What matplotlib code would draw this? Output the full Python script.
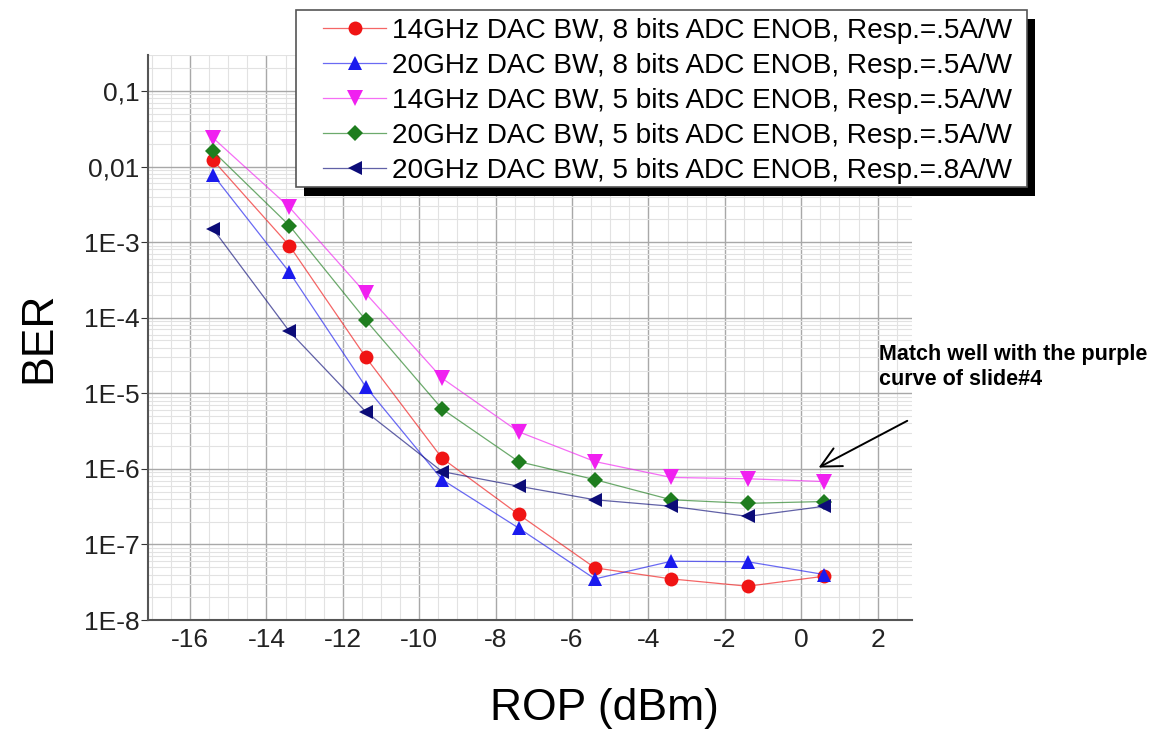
import matplotlib
matplotlib.use("Agg")
import matplotlib.pyplot as plt
from matplotlib.colors import to_rgba
from matplotlib.ticker import FixedLocator, FixedFormatter, LogLocator, MultipleLocator, NullFormatter
from matplotlib.patches import Rectangle
from matplotlib.font_manager import fontManager

# Received optical power (dBm)
rop = [-15.4, -13.4, -11.4, -9.4, -7.4, -5.4, -3.4, -1.4, 0.6]

ber_14g_8b_05 = [1.22e-2, 9.0e-4, 3.0e-5, 1.38e-6, 2.5e-7, 4.9e-8, 3.5e-8, 2.8e-8, 3.8e-8]
ber_20g_8b_05 = [7.8e-3, 4.0e-4, 1.22e-5, 7.2e-7, 1.65e-7, 3.5e-8, 6.0e-8, 5.9e-8, 4.0e-8]
ber_14g_5b_05 = [2.4e-2, 2.9e-3, 2.1e-4, 1.58e-5, 3.1e-6, 1.25e-6, 7.7e-7, 7.4e-7, 6.8e-7]
ber_20g_5b_05 = [1.6e-2, 1.66e-3, 9.3e-5, 6.2e-6, 1.25e-6, 7.2e-7, 3.9e-7, 3.5e-7, 3.7e-7]
ber_20g_5b_08 = [1.5e-3, 6.6e-5, 5.7e-6, 9.2e-7, 5.9e-7, 3.9e-7, 3.2e-7, 2.35e-7, 3.2e-7]

series_labels = [
    "14GHz DAC BW, 8 bits ADC ENOB, Resp.=.5A/W",
    "20GHz DAC BW, 8 bits ADC ENOB, Resp.=.5A/W",
    "14GHz DAC BW, 5 bits ADC ENOB, Resp.=.5A/W",
    "20GHz DAC BW, 5 bits ADC ENOB, Resp.=.5A/W",
    "20GHz DAC BW, 5 bits ADC ENOB, Resp.=.8A/W",
]

x_ticks = [-16, -14, -12, -10, -8, -6, -4, -2, 0, 2]
x_tick_labels = ["-16", "-14", "-12", "-10", "-8", "-6", "-4", "-2", "0", "2"]
y_ticks = [1e-8, 1e-7, 1e-6, 1e-5, 1e-4, 1e-3, 1e-2, 1e-1]
y_tick_labels = ["1E-8", "1E-7", "1E-6", "1E-5", "1E-4", "1E-3", "0,01", "0,1"]

note_text = "Match well with the purple\ncurve of slide#4"

available = {f.name for f in fontManager.ttflist}
base_font = "Liberation Sans" if "Liberation Sans" in available else "DejaVu Sans"
plt.rcParams["font.family"] = [base_font, "DejaVu Sans"]
plt.rcParams["axes.unicode_minus"] = False

fig = plt.figure(figsize=(11.53, 7.39), dpi=100)
ax = fig.add_axes([0.1284, 0.161, 0.6626, 0.7646])

series = [ber_14g_8b_05, ber_20g_8b_05, ber_14g_5b_05, ber_20g_5b_05, ber_20g_5b_08]
styles = [
    dict(color="#f01414", marker="o"),
    dict(color="#1a1aee", marker="^"),
    dict(color="#f020f0", marker="v"),
    dict(color="#1e7d1e", marker="D"),
    dict(color="#0c0c78", marker="<"),
]
msize = [10, 10, 11, 8, 10]

handles = []
for ys, st, lab, ms in zip(series, styles, series_labels, msize):
    h, = ax.plot(rop, ys, color=to_rgba(st["color"], 0.65), marker=st["marker"],
                 markersize=ms, markerfacecolor=st["color"], markeredgewidth=0,
                 linewidth=0.9, label=lab, zorder=3)
    handles.append(h)

ax.set_yscale("log")
ax.set_xlim(-17.1, 2.9)
ax.set_ylim(1e-8, 0.3)

ax.xaxis.set_major_locator(FixedLocator(x_ticks))
ax.xaxis.set_major_formatter(FixedFormatter(x_tick_labels))
ax.xaxis.set_minor_locator(MultipleLocator(0.5))
ax.yaxis.set_major_locator(FixedLocator(y_ticks))
ax.yaxis.set_major_formatter(FixedFormatter(y_tick_labels))
ax.yaxis.set_minor_locator(LogLocator(base=10, subs=range(2, 10), numticks=20))
ax.yaxis.set_minor_formatter(NullFormatter())

ax.grid(True, which="major", color="#a8a8a8", linewidth=1.0)
ax.grid(True, which="minor", color="#e2e2e2", linewidth=0.8)
ax.set_axisbelow(True)

for side in ("top", "right"):
    ax.spines[side].set_visible(False)
for side in ("left", "bottom"):
    ax.spines[side].set_color("#555555")
    ax.spines[side].set_linewidth(1.5)

ax.tick_params(axis="both", which="major", labelsize=19, colors="#333333",
               labelcolor="#222222")
ax.tick_params(axis="y", which="major", direction="out", length=5, pad=1)
ax.tick_params(axis="x", which="major", direction="out", length=0, pad=6)
ax.tick_params(which="minor", length=0)

ax.set_ylabel("BER", fontsize=32, labelpad=18)
ax.set_xlabel("ROP (dBm)", fontsize=32, va="center")
ax.xaxis.set_label_coords(0.598, -0.156)

leg = ax.legend(handles=handles, loc="upper left",
                bbox_to_anchor=(0.2801, 0.9756), bbox_transform=fig.transFigure,
                borderaxespad=0, fontsize=20.2, frameon=False,
                handlelength=2.25, handletextpad=0.22, labelspacing=0.32,
                borderpad=0)
leg.set_zorder(7)

# boxed frame with a solid drop shadow around the legend entries
fig.canvas.draw()
bb = leg.get_window_extent()
fx0, fx1 = bb.x0 - 27, bb.x1 + 15
fy0, fy1 = bb.y0 - 3, bb.y1 + 8
shadow = Rectangle((fx0 + 8, fy0 - 9), fx1 - fx0, fy1 - fy0, transform=None,
                   facecolor="black", edgecolor="none", zorder=5.5, clip_on=False)
frame = Rectangle((fx0, fy0), fx1 - fx0, fy1 - fy0, transform=None,
                  facecolor="white", edgecolor="#555555", linewidth=1.2,
                  zorder=5.6, clip_on=False)
ax.add_artist(shadow)
ax.add_artist(frame)

fig.text(0.762, 0.535, note_text, fontsize=15.5, fontweight="bold",
         ha="left", va="top", linespacing=1.3)
ax.annotate("", xy=(0.39, 1.0e-6), xytext=(2.84, 4.5e-6),
            arrowprops=dict(arrowstyle="->", color="black", lw=1.4,
                            mutation_scale=36),
            annotation_clip=False)

fig.savefig("out.png", dpi=100)
